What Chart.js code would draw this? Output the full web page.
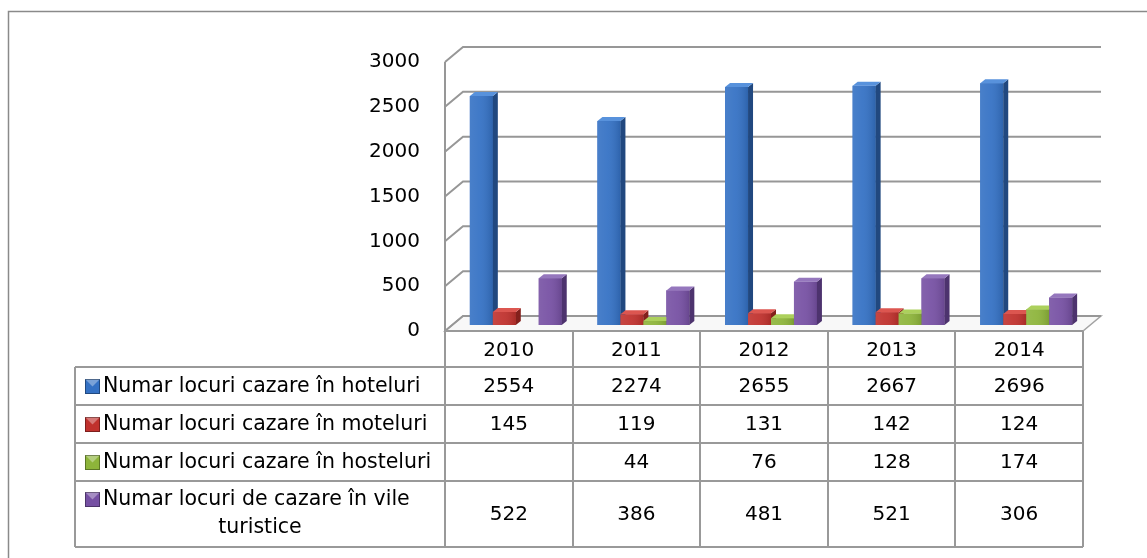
<!DOCTYPE html>
<html>
<head>
<meta charset="utf-8">
<script src="https://cdn.jsdelivr.net/npm/chart.js@4.4.1/dist/chart.umd.min.js"></script>
<style>
  html, body { margin: 0; padding: 0; background: #fff; overflow: hidden; }
  #wrap { position: relative; width: 1147px; height: 558px; }
</style>
</head>
<body>
<div id="wrap"><canvas id="barChart" width="1147" height="558"></canvas></div>
<script>
const years = ['2010', '2011', '2012', '2013', '2014'];
const hoteluri = [2554, 2274, 2655, 2667, 2696];
const moteluri = [145, 119, 131, 142, 124];
const hosteluri = [null, 44, 76, 128, 174];
const vile = [522, 386, 481, 521, 306];
const yTicks = [0, 500, 1000, 1500, 2000, 2500, 3000];

const seriesNames = [
  ['Numar locuri cazare în hoteluri'],
  ['Numar locuri cazare în moteluri'],
  ['Numar locuri cazare în hosteluri'],
  ['Numar locuri de cazare în vile', 'turistice']
];
const frontColors = ['#3471c4', '#c0312d', '#8db43a', '#7650a3'];
const sideColors = ['#21487f', '#83201c', '#5e7c22', '#4d336e'];
const topColors = ['#5892dc', '#dc5650', '#acd05c', '#9577bd'];

// 3d box geometry
const WALL_DX = 18, WALL_DY = 15;
const BAR_DX = 7, BAR_DY = 6;
const SIDE_X = 5, SIDE_Y = 4;

// table under the plot
const FONT = '20px "DejaVu Sans"';
const LABEL_FONT = '20.5px "DejaVu Sans"';
const headerH = 36;
const rowHeights = [38, 38, 38, 66];
const labelLeft = 75;

function poly(ctx, pts) {
  ctx.beginPath();
  ctx.moveTo(pts[0][0], pts[0][1]);
  for (let i = 1; i < pts.length; i++) ctx.lineTo(pts[i][0], pts[i][1]);
  ctx.closePath();
}

const plot3d = {
  id: 'plot3d',
  beforeDatasetsDraw(chart) {
    const { ctx, chartArea: a, scales: { y } } = chart;
    ctx.save();
    // floor
    poly(ctx, [[a.left, a.bottom], [a.right, a.bottom], [a.right + WALL_DX, a.bottom - WALL_DY], [a.left + WALL_DX, a.bottom - WALL_DY]]);
    ctx.fillStyle = '#f8f8f8';
    ctx.fill();
    ctx.strokeStyle = '#a3a3a3';
    ctx.lineWidth = 1.5;
    ctx.stroke();
    // gridlines on the left wall and back wall
    ctx.beginPath();
    yTicks.forEach(v => {
      const py = y.getPixelForValue(v);
      ctx.moveTo(a.left, py);
      ctx.lineTo(a.left + WALL_DX, py - WALL_DY);
      ctx.lineTo(a.right + WALL_DX, py - WALL_DY);
    });
    ctx.moveTo(a.left, a.top);
    ctx.lineTo(a.left, a.bottom);
    ctx.strokeStyle = '#979797';
    ctx.lineWidth = 2;
    ctx.stroke();
    ctx.restore();

    // bars stand a bit behind the front edge
    ctx.save();
    ctx.translate(BAR_DX, -BAR_DY);
  },
  afterDatasetsDraw(chart) {
    const ctx = chart.ctx;
    const bars = [];
    chart.data.datasets.forEach((ds, di) => {
      chart.getDatasetMeta(di).data.forEach((el, i) => {
        if (ds.data[i] == null) return;
        bars.push({ el, di });
      });
    });
    // left to right so each front hides the side of its neighbour
    bars.sort((p, q) => p.el.x - q.el.x);
    bars.forEach(({ el, di }) => {
      el.draw(ctx, chart.chartArea);
      const half = el.width / 2;
      const x0 = el.x - half, x1 = el.x + half;
      const top = el.y, base = el.base;
      const g = ctx.createLinearGradient(x0, 0, x1, 0);
      g.addColorStop(0, 'rgba(255,255,255,0.10)');
      g.addColorStop(0.45, 'rgba(255,255,255,0.06)');
      g.addColorStop(1, 'rgba(0,0,0,0.12)');
      ctx.fillStyle = g;
      ctx.fillRect(x0, top, x1 - x0, base - top);

      poly(ctx, [[x1, top], [x1 + SIDE_X, top - SIDE_Y], [x1 + SIDE_X, base - SIDE_Y], [x1, base]]);
      ctx.fillStyle = sideColors[di];
      ctx.fill();
      poly(ctx, [[x0, top], [x1, top], [x1 + SIDE_X, top - SIDE_Y], [x0 + SIDE_X, top - SIDE_Y]]);
      ctx.fillStyle = topColors[di];
      ctx.fill();
    });
    ctx.restore();
  }
};

function legendKey(ctx, x, y, color) {
  ctx.fillStyle = color;
  ctx.fillRect(x, y, 15, 15);
  poly(ctx, [[x, y], [x + 15, y], [x + 7.5, y + 7.5]]);
  ctx.fillStyle = 'rgba(255,255,255,0.35)';
  ctx.fill();
  ctx.strokeStyle = 'rgba(0,0,0,0.35)';
  ctx.lineWidth = 1;
  ctx.strokeRect(x + 0.5, y + 0.5, 14, 14);
}

const dataTable = {
  id: 'dataTable',
  afterDraw(chart) {
    const { ctx, scales: { x } } = chart;
    const top = chart.chartArea.bottom;
    const colW = (x.right - x.left) / years.length;
    const edges = [top, top + headerH];
    rowHeights.forEach(h => edges.push(edges[edges.length - 1] + h));
    const bottom = edges[edges.length - 1];

    ctx.save();
    ctx.strokeStyle = '#999';
    ctx.lineWidth = 2;
    ctx.beginPath();
    for (let i = 0; i <= years.length; i++) {
      const px = Math.round(x.left + i * colW);
      ctx.moveTo(px, top);
      ctx.lineTo(px, bottom);
    }
    ctx.moveTo(labelLeft, edges[1]);
    ctx.lineTo(labelLeft, bottom);
    edges.forEach((ey, k) => {
      ctx.moveTo(k === 0 ? x.left : labelLeft, ey);
      ctx.lineTo(x.right, ey);
    });
    ctx.stroke();

    ctx.fillStyle = '#000';
    ctx.font = FONT;
    ctx.textAlign = 'center';
    ctx.textBaseline = 'middle';
    years.forEach((yr, i) => ctx.fillText(yr, x.getPixelForValue(i), (edges[0] + edges[1]) / 2 + 2));

    chart.data.datasets.forEach((ds, r) => {
      const y0 = edges[r + 1], y1 = edges[r + 2];
      const mid = (y0 + y1) / 2 + 1;
      ctx.fillStyle = '#000';
      ctx.font = FONT;
      ctx.textAlign = 'center';
      ds.data.forEach((v, i) => {
        if (v == null) return;
        ctx.fillText(String(v), x.getPixelForValue(i), mid);
      });
      const lines = seriesNames[r];
      ctx.font = LABEL_FONT;
      if (lines.length === 1) {
        legendKey(ctx, 85, mid - 8, frontColors[r]);
        ctx.fillStyle = '#000';
        ctx.textAlign = 'left';
        ctx.fillText(lines[0], 103, mid);
      } else {
        const l1 = y0 + 19, l2 = y0 + 47;
        legendKey(ctx, 85, l1 - 8, frontColors[r]);
        ctx.fillStyle = '#000';
        ctx.textAlign = 'left';
        ctx.fillText(lines[0], 103, l1);
        ctx.textAlign = 'center';
        ctx.fillText(lines[1], (labelLeft + x.left) / 2, l2);
      }
    });

    // outer frame
    ctx.strokeStyle = '#8a8a8a';
    ctx.lineWidth = 1.5;
    ctx.beginPath();
    ctx.moveTo(8.5, 558);
    ctx.lineTo(8.5, 11.5);
    ctx.lineTo(1147, 11.5);
    ctx.stroke();
    ctx.restore();
  }
};

const ctx = document.getElementById('barChart');
new Chart(ctx, {
  type: 'bar',
  data: {
    labels: years,
    datasets: [
      { label: seriesNames[0].join(' '), data: hoteluri, backgroundColor: frontColors[0] },
      { label: seriesNames[1].join(' '), data: moteluri, backgroundColor: frontColors[1] },
      { label: seriesNames[2].join(' '), data: hosteluri, backgroundColor: frontColors[2] },
      { label: seriesNames[3].join(' '), data: vile, backgroundColor: frontColors[3] }
    ]
  },
  options: {
    responsive: false,
    animation: false,
    categoryPercentage: 0.72,
    barPercentage: 1,
    borderWidth: 0,
    layout: { padding: { left: 0, top: 62, right: 64, bottom: 227 } },
    plugins: {
      legend: { display: false },
      tooltip: { enabled: false }
    },
    scales: {
      x: { display: false },
      y: {
        min: 0,
        max: 3000,
        ticks: {
          stepSize: 500,
          color: '#000',
          padding: 25,
          font: { family: 'DejaVu Sans', size: 20 },
          callback: v => String(v)
        },
        grid: { display: false, drawTicks: false },
        border: { display: false },
        afterFit(scale) { scale.width = 445; }
      }
    }
  },
  plugins: [plot3d, dataTable]
});
</script>
</body>
</html>
